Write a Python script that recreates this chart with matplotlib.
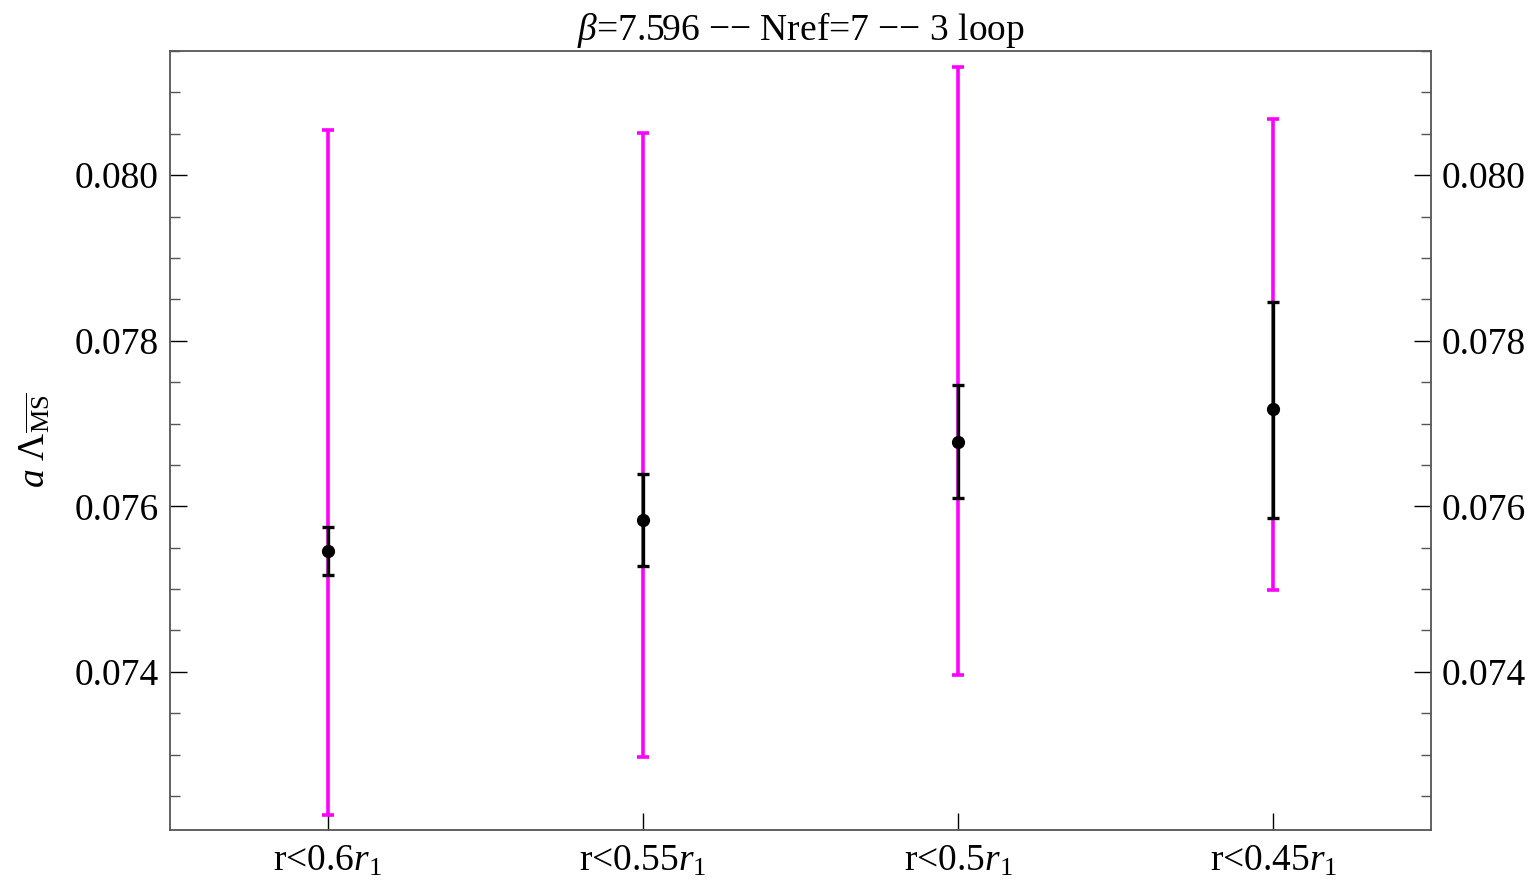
import matplotlib.pyplot as plt
import numpy as np

# --- datos ---
labels = [r'r<0.6$r_1$', r'r<0.55$r_1$', r'r<0.5$r_1$', r'r<0.45$r_1$']
central = [0.07546, 0.07584, 0.07678, 0.07717]
stat_lo = [0.07517, 0.07528, 0.07610, 0.07586]
stat_hi = [0.07575, 0.07639, 0.07746, 0.07847]
sys_lo = [0.07227, 0.07297, 0.07396, 0.07499]
sys_hi = [0.08055, 0.08051, 0.08131, 0.08068]

plt.rcParams['font.family'] = 'serif'
plt.rcParams['font.serif'] = ['Liberation Serif']
plt.rcParams['mathtext.fontset'] = 'custom'
plt.rcParams['mathtext.rm'] = 'Liberation Serif'
plt.rcParams['mathtext.it'] = 'Liberation Serif:italic'
plt.rcParams['mathtext.bf'] = 'Liberation Serif:bold'

x = np.arange(len(labels))
c = np.array(central)

fig = plt.figure(figsize=(15.34, 8.82), dpi=100)
ax = fig.add_axes([170 / 1534, 1 - 830 / 882, (1431 - 170) / 1534, (830 - 51) / 882])

# barras de error sistematicas (magenta)
ax.errorbar(x, c, yerr=[c - np.array(sys_lo), np.array(sys_hi) - c], fmt='none',
            ecolor='#ff00ff', elinewidth=2.6, capsize=4.5, capthick=2.6, zorder=2)
# barras estadisticas (negro)
ax.errorbar(x, c, yerr=[c - np.array(stat_lo), np.array(stat_hi) - c], fmt='o',
            color='black', ms=8.5, elinewidth=2.4, capsize=4.5, capthick=2.4, zorder=3)

ax.set_xlim(-0.5, 3.5)
ax.set_ylim(0.07209, 0.0815)
ax.set_xticks(x)
ax.set_xticklabels(labels)
ax.set_yticks([0.074, 0.076, 0.078, 0.080])
ax.set_yticklabels(['0.074', '0.076', '0.078', '0.080'])
ax.set_yticks(np.arange(0.0725, 0.0816, 0.0005), minor=True)

ax.tick_params(axis='y', which='both', direction='in', left=True, right=True,
               labelleft=True, labelright=True, labelsize=27, pad=8)
ax.tick_params(axis='y', which='major', length=12, width=1)
ax.tick_params(axis='y', which='minor', length=7, width=1, color='#555555')
ax.tick_params(axis='x', which='both', direction='in', top=False, length=12,
               width=1, labelsize=27, pad=10)

for s in ax.spines.values():
    s.set_color('#555555')
    s.set_linewidth(1.3)

ax.set_ylabel(r'$a\ \Lambda_{\overline{\mathrm{MS}}}$', fontsize=27, labelpad=16)
ax.set_title(r'$\beta$=7.596 −− Nref=7 −− 3 loop', fontsize=27, pad=8)

plt.savefig('out.png', dpi=100)
